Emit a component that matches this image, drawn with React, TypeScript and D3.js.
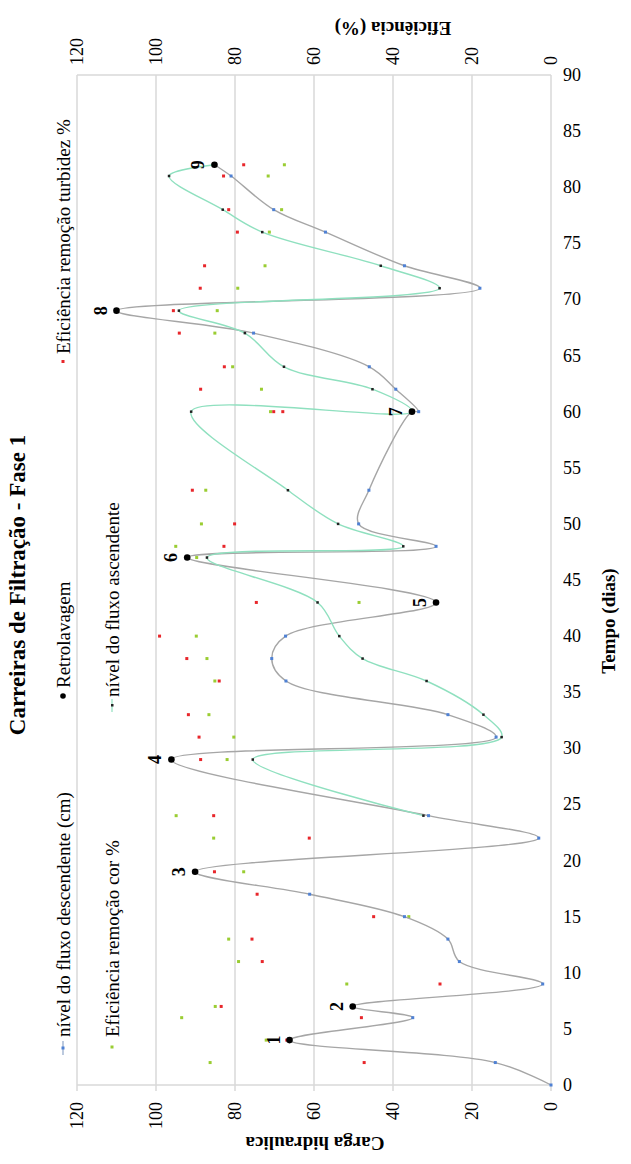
import React, { useRef, useEffect } from "react";
import * as d3 from "d3";

// chart is drawn turned a quarter turn: time runs bottom -> top, values run right -> left
const descDays = [0, 2, 4, 6, 7, 9, 11, 13, 15, 17, 19, 22, 24, 29, 31, 33, 36, 38, 40, 43, 47, 48, 50, 53, 60, 60, 62, 64, 67, 69, 71, 73, 76, 78, 81, 82];
const descVals = [0, 14.1, 66.2, 35.0, 50.2, 2.1, 23.2, 26.1, 37.1, 61.1, 90.1, 3.1, 31.0, 96.1, 13.9, 26.1, 67.1, 70.7, 67.2, 29.1, 92.1, 29.1, 48.7, 46.1, 35.2, 33.5, 39.3, 46.0, 75.3, 110, 18.0, 37.1, 57.1, 70.2, 81.0, 85.2];

const ascDays = [24, 29, 31, 33, 36, 38, 40, 43, 47, 48, 50, 53, 60, 60, 62, 64, 67, 69, 71, 73, 76, 78, 81, 82];
const ascVals = [32.3, 75.5, 12.5, 17.1, 31.5, 47.7, 53.6, 59.1, 87.1, 37.4, 53.9, 66.6, 91.1, 35.2, 45.2, 67.6, 77.5, 94.2, 28.2, 43.1, 73.1, 83.1, 96.7, 85.2];

const retroDays = [4, 7, 19, 29, 43, 47, 60, 69, 82];
const retroVals = [66.2, 50.2, 90.1, 96.1, 29.1, 92.1, 35.2, 110, 85.2];
const retroLabels = ["1", "2", "3", "4", "5", "6", "7", "8", "9"];

const turbDays = [2, 4, 6, 7, 9, 11, 13, 15, 17, 19, 22, 24, 29, 31, 33, 36, 38, 40, 43, 48, 50, 53, 60, 60, 62, 64, 67, 69, 71, 73, 76, 78, 81, 82];
const turbVals = [47.3, 66.9, 48.0, 83.5, 28.1, 73.1, 75.7, 44.9, 74.4, 85.2, 61.2, 85.4, 88.7, 89.1, 91.8, 84.0, 92.2, 99.1, 74.6, 82.8, 80.1, 90.8, 70.2, 67.9, 88.7, 82.7, 94.1, 95.6, 88.8, 87.7, 79.4, 81.6, 82.9, 77.8];

const corDays = [2, 4, 6, 7, 9, 11, 13, 15, 19, 22, 24, 29, 31, 33, 36, 38, 40, 43, 47, 48, 50, 53, 60, 62, 64, 67, 69, 71, 73, 76, 78, 81, 82];
const corVals = [86.3, 72.1, 93.5, 85.0, 51.7, 79.1, 81.6, 36.0, 77.8, 85.4, 94.9, 82.0, 80.3, 86.6, 85.1, 87.1, 89.8, 48.6, 89.7, 95.0, 88.5, 87.4, 71.0, 73.3, 80.6, 85.1, 84.5, 79.3, 72.4, 71.3, 68.2, 71.6, 67.5];

const valueTicks = [0, 20, 40, 60, 80, 100, 120];
const dayTicks = d3.range(0, 91, 5);

const FONT = "Liberation Serif, Times New Roman, DejaVu Serif, serif";

const App = () => {
  const svgRef = useRef();

  useEffect(() => {
    const width = 631;
    const height = 1164;
    const left = 77, right = 551, top = 75, bottom = 1085;

    const svg = d3.select(svgRef.current);
    svg.selectAll("*").remove();
    svg.attr("width", width).attr("height", height).attr("font-family", FONT);

    const xVal = d3.scaleLinear().domain([0, 120]).range([right, left]);
    const yDay = d3.scaleLinear().domain([0, 90]).range([bottom, top]);

    // gridlines on the value scale
    svg.append("g")
      .selectAll("line")
      .data(valueTicks)
      .enter()
      .append("line")
      .attr("x1", (d) => xVal(d))
      .attr("x2", (d) => xVal(d))
      .attr("y1", top)
      .attr("y2", bottom + 6)
      .attr("stroke", "#d9d9d9")
      .attr("stroke-width", 1.5);

    svg.append("line")
      .attr("x1", left).attr("x2", right)
      .attr("y1", bottom).attr("y2", bottom)
      .attr("stroke", "#d9d9d9").attr("stroke-width", 1.5);
    svg.append("line")
      .attr("x1", left).attr("x2", right)
      .attr("y1", top).attr("y2", top)
      .attr("stroke", "#d9d9d9").attr("stroke-width", 1.5);

    const txt = (sel) => sel.attr("font-family", FONT).attr("fill", "#000");

    // bottom value labels (Carga hidraulica)
    svg.append("g")
      .selectAll("text")
      .data(valueTicks)
      .enter()
      .append("text")
      .call(txt)
      .attr("transform", (d) => `translate(${xVal(d)},${bottom + 17}) rotate(-90)`)
      .attr("text-anchor", "end")
      .attr("dominant-baseline", "central")
      .attr("font-size", 18)
      .text((d) => d);

    // top value labels (Eficiência)
    svg.append("g")
      .selectAll("text")
      .data(valueTicks)
      .enter()
      .append("text")
      .call(txt)
      .attr("transform", (d) => `translate(${xVal(d)},${top - 10}) rotate(-90)`)
      .attr("text-anchor", "start")
      .attr("dominant-baseline", "central")
      .attr("font-size", 18)
      .text((d) => d);

    // time labels on the right
    svg.append("g")
      .selectAll("text")
      .data(dayTicks)
      .enter()
      .append("text")
      .call(txt)
      .attr("x", right + 12)
      .attr("y", (d) => yDay(d))
      .attr("dominant-baseline", "central")
      .attr("font-size", 18)
      .text((d) => d);

    // axis titles
    const title = (x, y, rot, size, label) =>
      svg.append("text")
        .call(txt)
        .attr("transform", `translate(${x},${y}) rotate(${rot})`)
        .attr("text-anchor", "middle")
        .attr("dominant-baseline", "central")
        .attr("font-size", size)
        .attr("font-weight", "bold")
        .text(label);
    title(17, 585, -90, 23, "Carreiras de Filtração - Fase 1");
    title(608, 621, -90, 19, "Tempo (dias)");
    title(315, 1143, 180, 19, "Carga hidraulica");
    title(393, 28, 180, 19, "Eficiência (%)");

    // scatter of efficiencies
    const turb = turbDays.map((d, i) => ({ d, v: turbVals[i] }));
    const cor = corDays.map((d, i) => ({ d, v: corVals[i] }));
    svg.append("g")
      .selectAll("rect")
      .data(cor)
      .enter()
      .append("rect")
      .attr("x", (p) => xVal(p.v) - 1.5)
      .attr("y", (p) => yDay(p.d) - 1.5)
      .attr("width", 3)
      .attr("height", 3)
      .attr("fill", "#9acd32");
    svg.append("g")
      .selectAll("rect")
      .data(turb)
      .enter()
      .append("rect")
      .attr("x", (p) => xVal(p.v) - 1.5)
      .attr("y", (p) => yDay(p.d) - 1.5)
      .attr("width", 3)
      .attr("height", 3)
      .attr("fill", "#e8262b");

    // smoothed level lines
    const line = d3.line()
      .x((p) => xVal(p.v))
      .y((p) => yDay(p.d))
      .curve(d3.curveCatmullRom.alpha(0.5));

    const desc = descDays.map((d, i) => ({ d, v: descVals[i] }));
    const asc = ascDays.map((d, i) => ({ d, v: ascVals[i] }));

    svg.append("path")
      .attr("d", line(desc))
      .attr("fill", "none")
      .attr("stroke", "#a6a6a6")
      .attr("stroke-width", 1.4);
    svg.append("path")
      .attr("d", line(asc))
      .attr("fill", "none")
      .attr("stroke", "#8fe0bf")
      .attr("stroke-width", 1.4);

    svg.append("g")
      .selectAll("rect")
      .data(desc)
      .enter()
      .append("rect")
      .attr("x", (p) => xVal(p.v) - 1.5)
      .attr("y", (p) => yDay(p.d) - 1.5)
      .attr("width", 3)
      .attr("height", 3)
      .attr("fill", "#4f81d4");
    svg.append("g")
      .selectAll("rect")
      .data(asc)
      .enter()
      .append("rect")
      .attr("x", (p) => xVal(p.v) - 1.25)
      .attr("y", (p) => yDay(p.d) - 1.25)
      .attr("width", 2.5)
      .attr("height", 2.5)
      .attr("fill", "#222");

    // backwash points with their numbers
    const retro = retroDays.map((d, i) => ({ d, v: retroVals[i], label: retroLabels[i] }));
    svg.append("g")
      .selectAll("circle")
      .data(retro)
      .enter()
      .append("circle")
      .attr("cx", (p) => xVal(p.v))
      .attr("cy", (p) => yDay(p.d))
      .attr("r", 3.3)
      .attr("fill", "#000");
    svg.append("g")
      .selectAll("text")
      .data(retro)
      .enter()
      .append("text")
      .call(txt)
      .attr("transform", (p) => `translate(${xVal(p.v) - 16},${yDay(p.d)}) rotate(-90)`)
      .attr("text-anchor", "middle")
      .attr("dominant-baseline", "central")
      .attr("font-size", 18)
      .attr("font-weight", "bold")
      .text((p) => p.label);

    // legend, two columns turned with the chart
    const legend = svg.append("g");
    const legendText = (x, y, label) =>
      legend.append("text")
        .call(txt)
        .attr("font-size", 19)
        .attr("transform", `translate(${x},${y}) rotate(-90)`)
        .attr("text-anchor", "start")
        .attr("dominant-baseline", "central")
        .text(label);

    // col 1
    legend.append("line").attr("x1", 63).attr("x2", 63).attr("y1", 1041).attr("y2", 1055)
      .attr("stroke", "#8fa6c8").attr("stroke-width", 1.2);
    legend.append("rect").attr("x", 61.5).attr("y", 1046.5).attr("width", 3).attr("height", 3).attr("fill", "#4f81d4");
    legendText(63, 1037, "nível do fluxo descendente (cm)");

    legend.append("circle").attr("cx", 63).attr("cy", 696).attr("r", 2.8).attr("fill", "#000");
    legendText(63, 688, "Retrolavagem");

    legend.append("rect").attr("x", 61.5).attr("y", 360).attr("width", 3).attr("height", 3).attr("fill", "#e8262b");
    legendText(63, 354, "Eficiência remoção turbidez %");

    // col 2
    legend.append("rect").attr("x", 110.5).attr("y", 1045.5).attr("width", 3).attr("height", 3).attr("fill", "#9acd32");
    legendText(112, 1037, "Eficiência remoção cor %");

    legend.append("line").attr("x1", 112).attr("x2", 112).attr("y1", 699).attr("y2", 712)
      .attr("stroke", "#8fe0bf").attr("stroke-width", 1.2);
    legend.append("rect").attr("x", 111).attr("y", 704).attr("width", 2.5).attr("height", 2.5).attr("fill", "#222");
    legendText(112, 697, "nível do fluxo ascendente");
  }, []);

  return (
    <div style={{ position: "absolute", left: 0, top: 0, width: 631, height: 1164, background: "#fff" }}>
      <svg ref={svgRef}></svg>
    </div>
  );
};

export default App;
